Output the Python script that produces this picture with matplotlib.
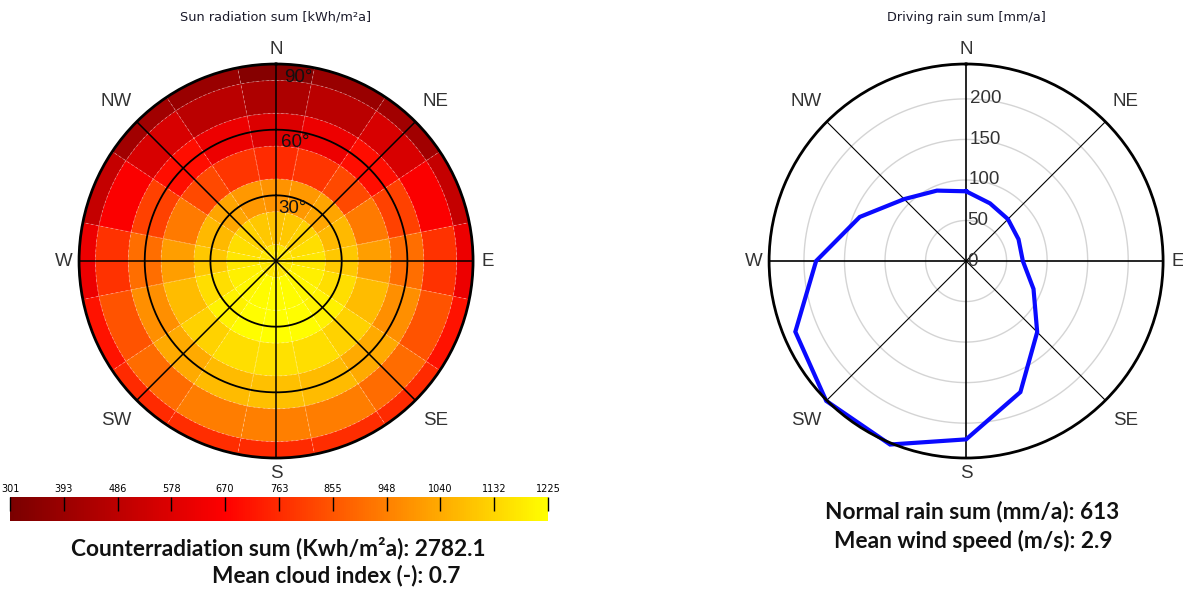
import numpy as np
import matplotlib
matplotlib.use("Agg")
import matplotlib.pyplot as plt
from matplotlib.colors import LinearSegmentedColormap, Normalize
from matplotlib.cm import ScalarMappable

# azimuth sectors, clockwise from north
azimuths = ["N", "NNE", "NE", "ENE", "E", "ESE", "SE", "SSE",
            "S", "SSW", "SW", "WSW", "W", "WNW", "NW", "NNW"]
tilts = [0, 15, 30, 45, 60, 75, 90]

# sun radiation sum per tilt ring [kWh/m2a]
sun_t0 = [1170, 1170, 1170, 1170, 1170, 1170, 1170, 1170, 1170, 1170, 1170, 1170, 1170, 1170, 1170, 1170]
sun_t15 = [1095, 1105, 1125, 1150, 1170, 1190, 1205, 1215, 1220, 1215, 1205, 1190, 1170, 1150, 1125, 1105]
sun_t30 = [990, 1000, 1030, 1070, 1105, 1150, 1195, 1220, 1225, 1220, 1195, 1150, 1105, 1070, 1030, 1000]
sun_t45 = [765, 785, 830, 935, 1015, 1080, 1125, 1150, 1160, 1150, 1125, 1080, 1015, 935, 830, 785]
sun_t60 = [575, 620, 700, 810, 910, 980, 1040, 1075, 1085, 1075, 1040, 980, 910, 810, 700, 620]
sun_t75 = [445, 480, 560, 660, 780, 850, 905, 940, 945, 940, 905, 850, 780, 660, 560, 480]
sun_t90 = [334, 390, 410, 510, 620, 710, 760, 770, 760, 770, 760, 710, 620, 510, 410, 390]

cbar_ticks = [301, 393, 486, 578, 670, 763, 855, 948, 1040, 1132, 1225]

# driving rain sum per direction [mm/a]
rain = [86, 77, 73, 70, 70, 90, 124, 175, 220, 245, 244, 228, 185, 142, 108, 94]
rain_rings = [50, 100, 150, 200]
rain_max = 243

compass = ["N", "NE", "E", "SE", "S", "SW", "W", "NW"]

sun_rows = [sun_t0, sun_t15, sun_t30, sun_t45, sun_t60, sun_t75, sun_t90]
ring_edges = [0, 7.5, 22.5, 37.5, 52.5, 67.5, 82.5, 90]

cmap = LinearSegmentedColormap.from_list(
    "sun", [(0.0, "#7a0000"), (0.4, "#ff0000"), (1.0, "#ffff00")])
norm = Normalize(vmin=301, vmax=1225)

fig = plt.figure(figsize=(11.83, 5.90), dpi=100)

theta_c = np.deg2rad(np.arange(16) * 22.5)
width = np.deg2rad(22.5)
full = np.linspace(0, 2 * np.pi, 400)
label_font = "Liberation Sans"


def setup_polar(ax, rmax):
    ax.set_theta_zero_location("N")
    ax.set_theta_direction(-1)
    ax.set_ylim(0, rmax)
    ax.grid(False)
    ax.set_xticks([])
    ax.set_yticks([])
    ax.spines["polar"].set_linewidth(2)
    ax.spines["polar"].set_color("black")
    ax.patch.set_alpha(0)
    for k, lab in enumerate(compass):
        ang = np.deg2rad(k * 45)
        rr = rmax * (212 / 197 if k % 2 == 0 else 226 / 197)
        ax.text(ang, rr, lab, ha="center", va="center", fontsize=13.5,
                family=label_font, color="#333333", clip_on=False)


# --- left: sun radiation ---
ax1 = fig.add_axes([0.0668, 0.2237, 0.3331, 0.6678], projection="polar")
setup_polar(ax1, 90)
for i, vals in enumerate(sun_rows):
    lo, hi = ring_edges[i], ring_edges[i + 1]
    ax1.bar(theta_c, hi - lo, width=width, bottom=lo,
            color=cmap(norm(np.array(vals))), edgecolor="none", linewidth=0)
# faint dashed cell borders
for e in ring_edges[1:-1]:
    ax1.plot(full, np.full_like(full, e), color="white", lw=0.6, ls=(0, (3, 3)), alpha=0.35)
for k in range(16):
    a = np.deg2rad(11.25 + k * 22.5)
    ax1.plot([a, a], [7.5, 90], color="white", lw=0.6, ls=(0, (3, 3)), alpha=0.35)
for r in [30, 60]:
    ax1.plot(full, np.full_like(full, r), color="black", lw=1.3)
for k in range(8):
    a = np.deg2rad(k * 45)
    ax1.plot([a, a], [0, 90], color="black", lw=1.1)
for r in [30, 60, 90]:
    ax1.text(np.deg2rad(2.5), r - 6, f"{r}°", ha="left", va="center",
             fontsize=13.5, family=label_font, color="#111111")

# --- right: driving rain ---
ax2 = fig.add_axes([0.6501, 0.2237, 0.3331, 0.6678], projection="polar")
setup_polar(ax2, rain_max)
for r in rain_rings:
    ax2.plot(full, np.full_like(full, r), color="#d4d4d4", lw=1)
for k in range(8):
    a = np.deg2rad(k * 45)
    ax2.plot([a, a], [0, rain_max], color="black", lw=1.2 if k % 2 == 0 else 0.8)
for r in rain_rings:
    ax2.text(np.deg2rad(1.5), r, f"{r}", ha="left", va="center",
             fontsize=13.5, family=label_font, color="#333333")
ax2.text(np.pi / 2, 2, "0", ha="left", va="center",
         fontsize=13.5, family=label_font, color="#333333")
rain_theta = np.append(theta_c, theta_c[0])
rain_vals = np.append(rain, rain[0])
ax2.plot(rain_theta, rain_vals, color="#0a0aff", lw=3, clip_on=False,
         solid_joinstyle="miter")

# titles
fig.text(276 / 1183, 1 - 17 / 590, "Sun radiation sum [kWh/m²a]",
         ha="center", va="center", fontsize=9.3, color="#1a1a2a")
fig.text(966 / 1183, 1 - 17 / 590, "Driving rain sum [mm/a]",
         ha="center", va="center", fontsize=9.3, color="#1a1a2a")

# colorbar
cax = fig.add_axes([10 / 1183, 69 / 590, 538 / 1183, 24 / 590])
cb = fig.colorbar(ScalarMappable(norm=norm, cmap=cmap), cax=cax,
                  orientation="horizontal")
cb.outline.set_visible(False)
cb.set_ticks(cbar_ticks)
cb.set_ticklabels([str(t) for t in cbar_ticks])
cax.xaxis.set_ticks_position("top")
cax.xaxis.set_label_position("top")
cax.tick_params(axis="x", direction="in", length=10, width=1, color="black",
                labelsize=7, pad=2, top=True, bottom=False,
                labeltop=True, labelbottom=False)

bold = dict(fontsize=16.3, fontweight="bold", family="Lato", color="#111111",
            ha="center", va="center")
fig.text(278 / 1183, 1 - 548 / 590, "Counterradiation sum (Kwh/m²a): 2782.1", **bold)
fig.text(336 / 1183, 1 - 575 / 590, "Mean cloud index (-): 0.7", **bold)
fig.text(972 / 1183, 1 - 512 / 590, "Normal rain sum (mm/a): 613", **bold)
fig.text(973 / 1183, 1 - 541 / 590, "Mean wind speed (m/s): 2.9", **bold)

fig.savefig("out.png", dpi=100)
